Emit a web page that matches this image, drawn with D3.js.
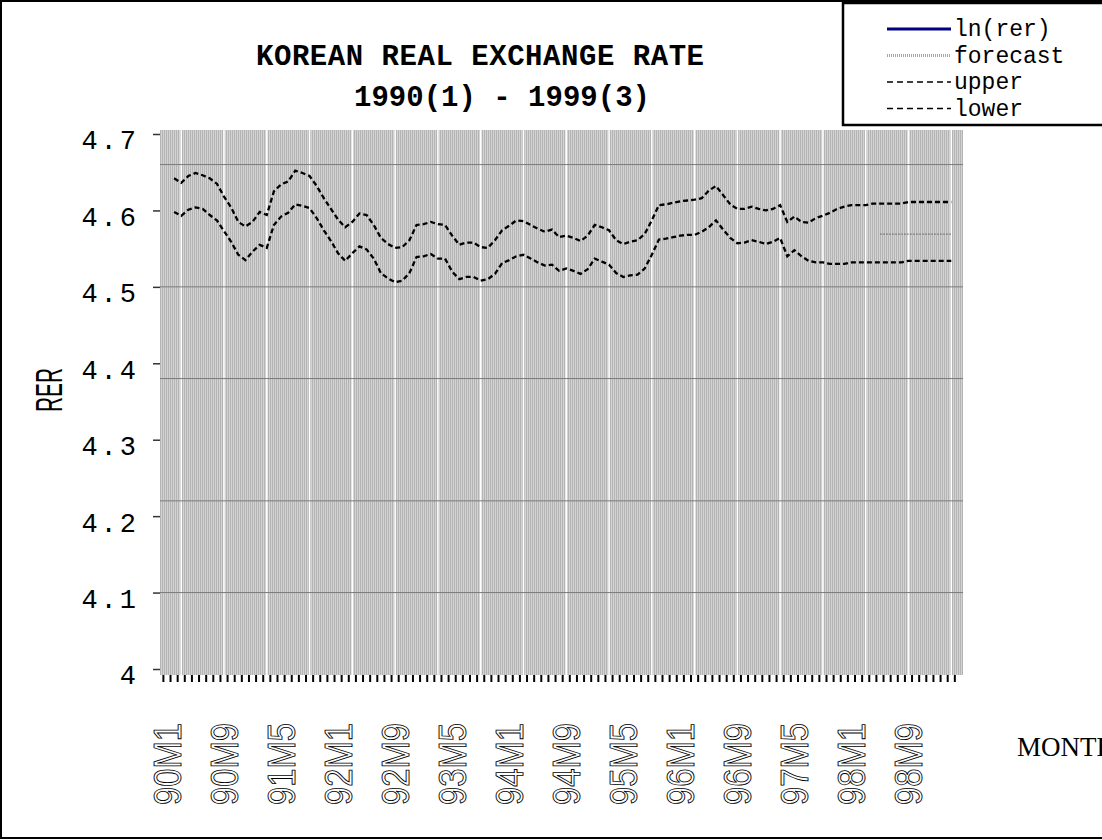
<!DOCTYPE html>
<html>
<head>
<meta charset="utf-8">
<script src="https://cdn.jsdelivr.net/npm/d3@7"></script>
<style>
  body { margin: 0; background: #fff; }
  svg { display: block; }
</style>
</head>
<body>
<svg id="chart"></svg>
<script>
// data (monthly, 90M1 .. 99M3)
const startYear = 90, nMonths = 111;
const months = d3.range(nMonths).map(i => `${startYear + Math.floor(i / 12)}M${i % 12 + 1}`);
const tickLabels = ["90M1","90M9","91M5","92M1","92M9","93M5","94M1","94M9","95M5","96M1","96M9","97M5","98M1","98M9"];
const yTicks = [4, 4.1, 4.2, 4.3, 4.4, 4.5, 4.6, 4.7];
const hLines = [4.66, 4.5, 4.38, 4.22, 4.1];

// bands start at 90M2
const upper = [
  4.642,4.636,4.645,4.649,4.646,4.642,4.635,4.618,4.604,4.585,4.579,4.585,
  4.598,4.594,4.625,4.634,4.638,4.652,4.649,4.645,4.632,4.616,4.602,4.588,
  4.578,4.585,4.596,4.594,4.581,4.564,4.556,4.551,4.552,4.561,4.581,4.582,
  4.585,4.582,4.581,4.567,4.555,4.558,4.558,4.552,4.551,4.561,4.574,4.580,
  4.587,4.586,4.581,4.576,4.572,4.575,4.565,4.567,4.564,4.560,4.567,4.581,
  4.578,4.574,4.561,4.556,4.559,4.561,4.569,4.587,4.607,4.608,4.610,4.612,
  4.613,4.614,4.616,4.626,4.632,4.620,4.608,4.602,4.602,4.605,4.602,4.600,
  4.602,4.607,4.585,4.592,4.585,4.584,4.590,4.593,4.597,4.602,4.605,4.607,
  4.607,4.607,4.609,4.609,4.609,4.609,4.609,4.611,4.611,4.611,4.611,4.611,
  4.611,4.611
];
const lower = [
  4.598,4.593,4.601,4.604,4.602,4.594,4.587,4.573,4.559,4.542,4.535,4.546,
  4.555,4.551,4.581,4.592,4.597,4.608,4.606,4.603,4.590,4.574,4.560,4.544,
  4.534,4.544,4.553,4.549,4.537,4.518,4.511,4.506,4.508,4.518,4.539,4.540,
  4.543,4.537,4.537,4.520,4.510,4.513,4.513,4.508,4.510,4.517,4.531,4.535,
  4.540,4.542,4.537,4.532,4.528,4.529,4.521,4.524,4.521,4.517,4.523,4.537,
  4.533,4.529,4.518,4.513,4.515,4.516,4.524,4.542,4.562,4.563,4.565,4.567,
  4.568,4.568,4.572,4.578,4.587,4.575,4.564,4.557,4.558,4.561,4.559,4.556,
  4.559,4.564,4.540,4.548,4.540,4.534,4.532,4.532,4.530,4.530,4.530,4.532,
  4.532,4.532,4.532,4.532,4.532,4.532,4.532,4.534,4.534,4.534,4.534,4.534,
  4.534,4.534
];
// forecast from 98M5
const forecast = [4.569,4.569,4.569,4.569,4.569,4.569,4.569,4.569,4.569,4.569,4.569];

const W = 1102, H = 840;
const svg = d3.select("#chart").attr("width", W).attr("height", H);
const mono = "'Courier New', 'Liberation Mono', monospace";

// frame
svg.append("rect")
  .attr("x", 1).attr("y", 1).attr("width", W + 10).attr("height", H - 3)
  .attr("fill", "none").attr("stroke", "#000").attr("stroke-width", 2);

// scales
const x = d3.scaleBand().domain(months).range([163.4, 163.4 + 7.13 * nMonths]).paddingInner(0);
const xc = m => x(m) + x.bandwidth() / 2;
const y = d3.scaleLinear().domain([4, 4.7]).range([669, 134]);

// plot background: fine vertical hatch
const defs = svg.append("defs");
const pat = defs.append("pattern").attr("id", "hatch")
  .attr("width", 2).attr("height", 2).attr("patternUnits", "userSpaceOnUse");
pat.append("rect").attr("width", 2).attr("height", 2).attr("fill", "#d3d3d3");
pat.append("rect").attr("x", 0).attr("width", 1).attr("height", 2).attr("fill", "#b4b4b4");

const plot = { x0: 160, x1: 963, y0: 130, y1: 675 };
svg.append("rect")
  .attr("x", plot.x0).attr("y", plot.y0)
  .attr("width", plot.x1 - plot.x0).attr("height", plot.y1 - plot.y0)
  .attr("fill", "url(#hatch)");

// white vertical lines every 6 months
svg.append("g").selectAll("line")
  .data(months.filter((m, i) => i >= 2 && (i - 2) % 6 === 0))
  .join("line")
    .attr("x1", d => xc(d)).attr("x2", d => xc(d))
    .attr("y1", plot.y0).attr("y2", plot.y1)
    .attr("stroke", "#fff").attr("stroke-width", 1.5);

// horizontal lines
svg.append("g").selectAll("line")
  .data(hLines)
  .join("line")
    .attr("x1", plot.x0).attr("x2", plot.x1)
    .attr("y1", d => y(d)).attr("y2", d => y(d))
    .attr("stroke", "#7a7a7a").attr("stroke-width", 1);

// y axis
const yAxis = svg.append("g").attr("transform", `translate(${plot.x0},0)`)
  .call(d3.axisLeft(y).tickValues(yTicks).tickSize(7).tickPadding(14)
    .tickFormat(d => d === 4 ? "4" : d3.format(".1f")(d)));
yAxis.select(".domain").remove();
yAxis.selectAll(".tick line").attr("stroke", "#333").attr("stroke-width", 1.5);
yAxis.selectAll(".tick text")
  .attr("font-family", mono).attr("font-size", 27)
  .attr("letter-spacing", 3).attr("fill", "#000")
  .attr("dy", "0.55em");

// x ticks at band edges
const edges = months.map(m => x(m)).concat([x(months[nMonths - 1]) + x.bandwidth()]);
svg.append("g").selectAll("line")
  .data(edges)
  .join("line")
    .attr("x1", d => d).attr("x2", d => d)
    .attr("y1", plot.y1).attr("y2", plot.y1 + 7)
    .attr("stroke", "#000").attr("stroke-width", 2);

// x labels, hollow and rotated
svg.append("g").selectAll("text")
  .data(tickLabels)
  .join("text")
    .attr("transform", d => `translate(${xc(d) + 14},805) rotate(-90)`)
    .attr("font-family", "'Liberation Sans', Arial, sans-serif")
    .attr("font-size", 38)
    .attr("textLength", 82).attr("lengthAdjust", "spacingAndGlyphs")
    .attr("fill", "#fff").attr("stroke", "#000").attr("stroke-width", 0.9)
    .text(d => d);

// series
const bandMonths = months.slice(1);
const line = d3.line().x((d, i) => xc(bandMonths[i])).y(d => y(d));
[upper, lower].forEach(s => {
  svg.append("path").datum(s)
    .attr("d", line)
    .attr("fill", "none").attr("stroke", "#000")
    .attr("stroke-width", 2.3).attr("stroke-dasharray", "5,3");
});
const fcMonths = months.slice(nMonths - forecast.length);
svg.append("path").datum(forecast)
  .attr("d", d3.line().x((d, i) => xc(fcMonths[i])).y(d => y(d)))
  .attr("fill", "none").attr("stroke", "#6e6e6e")
  .attr("stroke-width", 1).attr("stroke-dasharray", "2,1");

// title
svg.append("text").attr("x", 256).attr("y", 65)
  .attr("font-family", mono).attr("font-weight", "bold").attr("font-size", 29)
  .attr("textLength", 448).attr("lengthAdjust", "spacing")
  .text("KOREAN REAL EXCHANGE RATE");
svg.append("text").attr("x", 354).attr("y", 106)
  .attr("font-family", mono).attr("font-weight", "bold").attr("font-size", 29)
  .attr("textLength", 296).attr("lengthAdjust", "spacing")
  .text("1990(1) - 1999(3)");

// axis titles
svg.append("text")
  .attr("transform", "translate(62,412) rotate(-90)")
  .attr("font-family", "'Liberation Sans', Arial, sans-serif")
  .attr("font-size", 36)
  .attr("textLength", 44).attr("lengthAdjust", "spacingAndGlyphs")
  .text("RER");
svg.append("text").attr("x", 1017).attr("y", 756)
  .attr("font-family", "'Liberation Serif', 'Times New Roman', serif")
  .attr("font-size", 27)
  .text("MONTH");

// legend
const legend = svg.append("g");
legend.append("rect")
  .attr("x", 843).attr("y", 3).attr("width", 300).attr("height", 122)
  .attr("fill", "#fff").attr("stroke", "#000").attr("stroke-width", 2.5);
const legendItems = [
  { name: "ln(rer)", stroke: "#000080", width: 3, dash: null },
  { name: "forecast", stroke: "#a8a8a8", width: 3, dash: "1,1" },
  { name: "upper", stroke: "#000", width: 1.5, dash: "6,4" },
  { name: "lower", stroke: "#000", width: 1.5, dash: "6,4" }
];
legendItems.forEach((d, i) => {
  const ly = 29 + i * 26.5;
  legend.append("line")
    .attr("x1", 887).attr("x2", 951).attr("y1", ly).attr("y2", ly)
    .attr("stroke", d.stroke).attr("stroke-width", d.width)
    .attr("stroke-dasharray", d.dash);
  legend.append("text")
    .attr("x", 954).attr("y", ly + 7)
    .attr("font-family", mono).attr("font-size", 23)
    .text(d.name);
});
</script>
</body>
</html>
